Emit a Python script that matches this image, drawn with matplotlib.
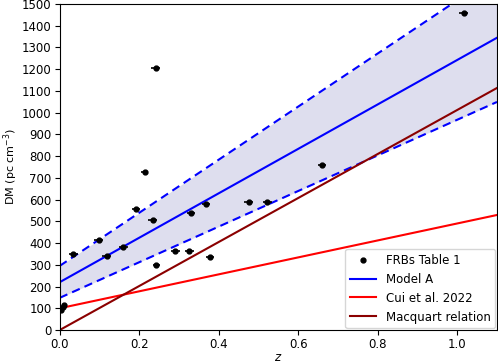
import numpy as np
import matplotlib
matplotlib.use("Agg")
import matplotlib.pyplot as plt
from matplotlib.lines import Line2D

# FRB data (Table 1)
frb_z = [0.003, 0.008, 0.011, 0.034, 0.098, 0.118, 0.160, 0.192, 0.214, 0.234, 0.241,
         0.243, 0.291, 0.326, 0.330, 0.368, 0.378, 0.475, 0.522, 0.660, 1.016]
frb_dm = [92, 106, 114, 350, 414, 340, 380, 558, 728, 506, 1204,
          298, 365, 362, 537, 578, 334, 589, 590, 760, 1458]
frb_zerr = [0.006, 0.006, 0.006, 0.011, 0.011, 0.011, 0.011, 0.011, 0.009, 0.011, 0.011,
            0.009, 0.011, 0.011, 0.011, 0.011, 0.011, 0.011, 0.011, 0.011, 0.011]
frb_dmerr = [6, 6, 6, 5, 5, 5, 5, 5, 5, 5, 5, 5, 5, 5, 5, 5, 5, 5, 5, 5, 5]

# model lines: DM = a + b*z
modelA = (220, 1022)
modelA_hi = (295, 1221)
modelA_lo = (148, 819)
cui = (100, 390)
macquart = (0, 1012)

z = np.linspace(0, 1.1, 200)

def line(p):
    return p[0] + p[1] * z

fig = plt.figure(figsize=(4.98, 3.64), dpi=100)
ax = fig.add_axes([0.12, 0.0934, 0.878, 0.896])

ax.fill_between(z, line(modelA_lo), line(modelA_hi), color="navy", alpha=0.13, lw=0)
ax.errorbar(frb_z, frb_dm, xerr=frb_zerr, yerr=frb_dmerr, fmt="o", color="black",
            ms=3.5, elinewidth=1.2, capsize=0, zorder=5)
lA, = ax.plot(z, line(modelA), color="blue", lw=1.5)
ax.plot(z, line(modelA_hi), color="blue", lw=1.5, ls="--", dashes=(4, 2.5))
ax.plot(z, line(modelA_lo), color="blue", lw=1.5, ls="--", dashes=(4, 2.5))
lC, = ax.plot(z, line(cui), color="red", lw=1.5)
lM, = ax.plot(z, line(macquart), color="darkred", lw=1.5)

ax.set_xlim(0, 1.1)
ax.set_ylim(0, 1500)
ax.set_yticks(np.arange(0, 1501, 100))
ax.set_xticks([0.0, 0.2, 0.4, 0.6, 0.8, 1.0])
ax.tick_params(labelsize=8.5, pad=2.5)
ax.set_xlabel("$z$", fontsize=8.5, labelpad=0)
ax.set_ylabel("DM (pc cm$^{-3}$)", fontsize=8)
ax.yaxis.set_label_coords(-0.09, 0.5)

# legend: plain dot for the FRBs
dot = Line2D([], [], ls="none", marker="o", color="black", ms=3.5)
ax.legend([dot, lA, lC, lM], ["FRBs Table 1", "Model A", "Cui et al. 2022", "Macquart relation"],
          loc="lower right", fontsize=8.5, handlelength=2.2, borderaxespad=0.15)

fig.savefig("out.png", dpi=100)
